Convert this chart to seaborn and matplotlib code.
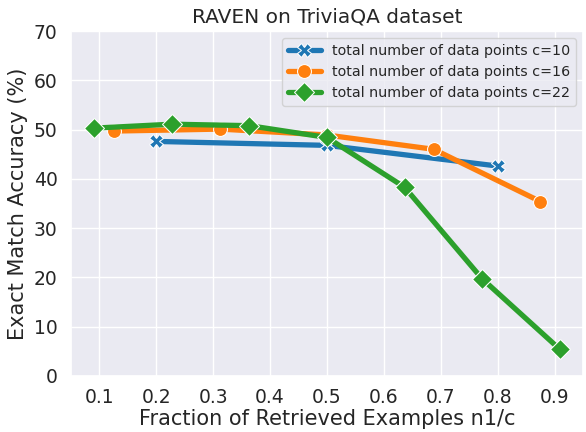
import numpy as np
import pandas as pd
import seaborn as sns
import matplotlib.pyplot as plt

# fractions n1/c and exact match accuracy (%)
frac_c10 = [2/10, 5/10, 8/10]
acc_c10 = [47.6, 46.8, 42.6]

frac_c16 = [2/16, 5/16, 8/16, 11/16, 14/16]
acc_c16 = [49.7, 50.1, 48.9, 46.0, 35.4]

frac_c22 = [2/22, 5/22, 8/22, 11/22, 14/22, 17/22, 20/22]
acc_c22 = [50.3, 51.1, 50.8, 48.4, 38.3, 19.7, 5.4]

labels = ["total number of data points c=10",
          "total number of data points c=16",
          "total number of data points c=22"]
xticks = [0.1, 0.2, 0.3, 0.4, 0.5, 0.6, 0.7, 0.8, 0.9]

df = pd.concat([
    pd.DataFrame({"frac": frac_c10, "acc": acc_c10, "series": labels[0]}),
    pd.DataFrame({"frac": frac_c16, "acc": acc_c16, "series": labels[1]}),
    pd.DataFrame({"frac": frac_c22, "acc": acc_c22, "series": labels[2]}),
])

sns.set_theme(style="darkgrid")

fig, ax = plt.subplots(figsize=(5.86, 4.32), dpi=100)
sns.lineplot(data=df, x="frac", y="acc", hue="series", style="series",
             palette=["#1f77b4", "#ff7f0e", "#2ca02c"],
             markers=["X", "o", "D"], dashes=False, linewidth=3.8,
             markersize=10, ax=ax)

ax.set_ylim(0, 70)
ax.set_xlim(0.05, 0.95)
ax.set_xticks(xticks)
ax.set_xticklabels([f"{t:.1f}" for t in xticks])
ax.tick_params(labelsize=13.5)
ax.tick_params(axis="x", pad=3)
ax.set_title("RAVEN on TriviaQA dataset", fontsize=14.5)
ax.set_xlabel("Fraction of Retrieved Examples n1/c", fontsize=15, labelpad=1)
ax.set_ylabel("Exact Match Accuracy (%)", fontsize=15)
ax.legend(loc="upper right", fontsize=10.3, handlelength=2.3)

plt.subplots_adjust(left=0.121, right=0.995, top=0.928, bottom=0.13)
plt.savefig("out.png", dpi=100)
